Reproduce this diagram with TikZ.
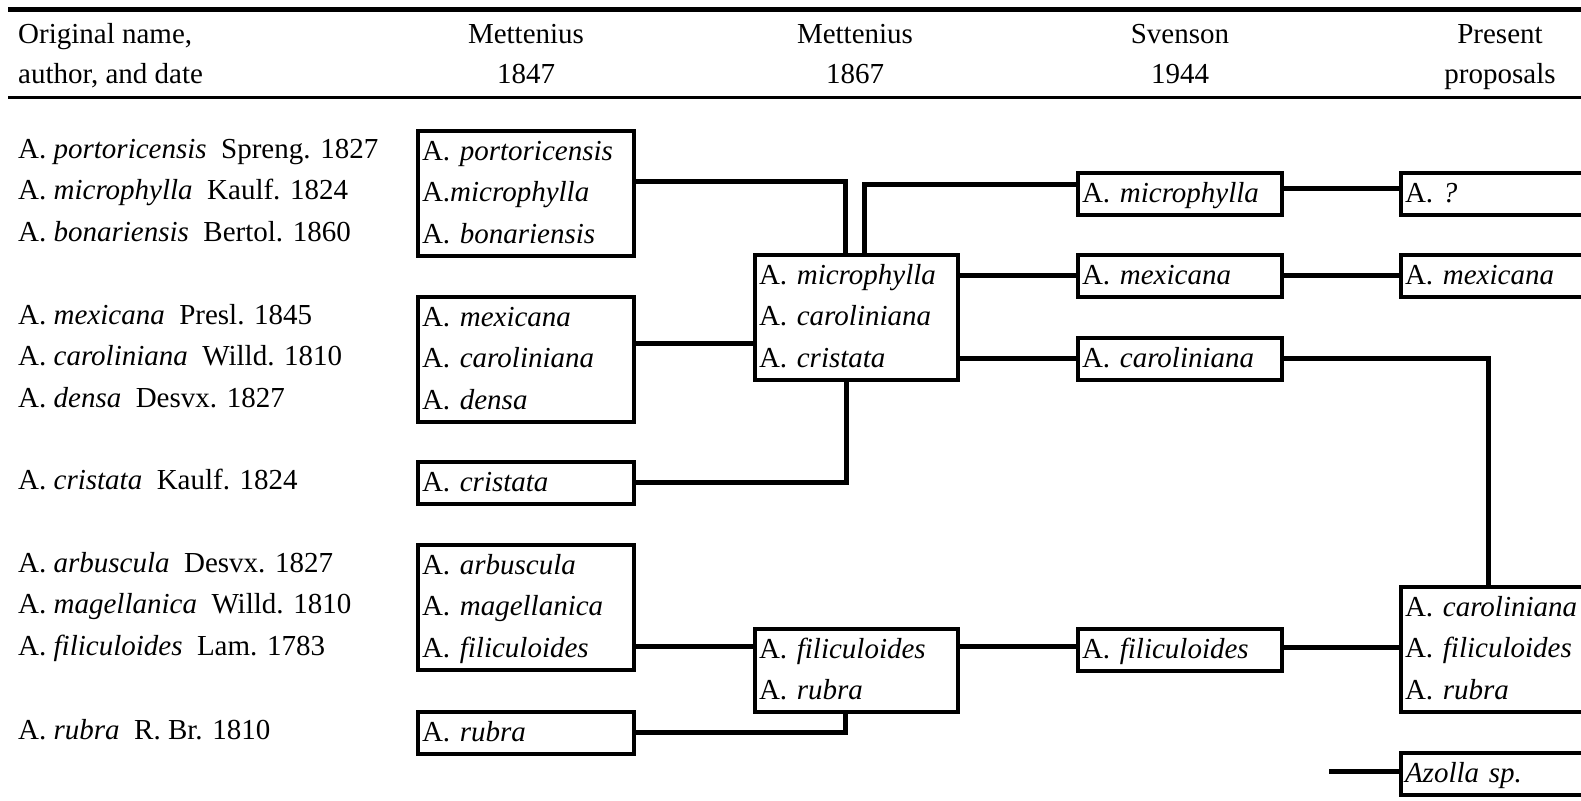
\documentclass[tikz,border=0pt]{standalone}
\usepackage{fontspec}
\setmainfont{Liberation Serif}
\usepackage{tikz}
\newcommand{\rowstrut}{\rule[-12.5pt]{0pt}{41.5pt}}
\newcommand{\az}[1]{\rowstrut A.\ \textit{#1}}
\newcommand{\orig}[2]{A.\ \textit{#1}\hspace{0.5em}#2}

\begin{document}
\begin{tikzpicture}[
    x=1pt, y=-1pt,
    font=\fontsize{29}{41.5}\selectfont,
    box/.style={draw, line width=4pt, anchor=north west, inner xsep=4pt, inner ysep=0pt, align=left},
    colA/.style={box, text width=208pt},
    colB/.style={box, text width=195pt},
    colC/.style={box, text width=196pt},
    colD/.style={box, text width=208pt},
    link/.style={line width=5pt},
    head/.style={anchor=base, inner sep=0pt},
    orig/.style={anchor=base west, inner sep=0pt},
]
    \path[clip, use as bounding box] (0,0) rectangle (1581,800);
    \draw[line width=5pt] (8,10) -- (1581,10);
    \draw[line width=3pt] (8,97) -- (1581,97);

    \node[orig] (h1a) at (18,44) {Original name,};
    \node[orig] (h1b) at (18,83) {author, and date};
    \node[head] (h2a) at (526,44) {Mettenius};
    \node[head] (h2b) at (526,83) {1847};
    \node[head] (h3a) at (855,44) {Mettenius};
    \node[head] (h3b) at (855,83) {1867};
    \node[head] (h4a) at (1180,44) {Svenson};
    \node[head] (h4b) at (1180,83) {1944};
    \node[head] (h5a) at (1500,44) {Present};
    \node[head] (h5b) at (1500,83) {proposals};

    \node[orig] (o1) at (18,158) {\orig{portoricensis}{Spreng. 1827}};
    \node[orig] (o2) at (18,199.5) {\orig{microphylla}{Kaulf. 1824}};
    \node[orig] (o3) at (18,241) {\orig{bonariensis}{Bertol. 1860}};
    \node[orig] (o4) at (18,324) {\orig{mexicana}{Presl. 1845}};
    \node[orig] (o5) at (18,365.5) {\orig{caroliniana}{Willd. 1810}};
    \node[orig] (o6) at (18,407) {\orig{densa}{Desvx. 1827}};
    \node[orig] (o7) at (18,489) {\orig{cristata}{Kaulf. 1824}};
    \node[orig] (o8) at (18,572) {\orig{arbuscula}{Desvx. 1827}};
    \node[orig] (o9) at (18,613.5) {\orig{magellanica}{Willd. 1810}};
    \node[orig] (o10) at (18,655) {\orig{filiculoides}{Lam. 1783}};
    \node[orig] (o11) at (18,739) {\orig{rubra}{R. Br. 1810}};

    \node[colA] (b1) at (416,129) {\az{portoricensis}\\ \rowstrut A.\textit{microphylla}\\ \az{bonariensis}};
    \node[colA] (b2) at (416,295) {\az{mexicana}\\ \az{caroliniana}\\ \az{densa}};
    \node[colA] (b3) at (416,460) {\az{cristata}};
    \node[colA] (b4) at (416,543) {\az{arbuscula}\\ \az{magellanica}\\ \az{filiculoides}};
    \node[colA] (b5) at (416,710) {\az{rubra}};
    \node[colB] (c1) at (753,253) {\az{microphylla}\\ \az{caroliniana}\\ \az{cristata}};
    \node[colB] (c2) at (753,627) {\az{filiculoides}\\ \az{rubra}};
    \node[colC] (d1) at (1076,171) {\az{microphylla}};
    \node[colC] (d2) at (1076,253) {\az{mexicana}};
    \node[colC] (d3) at (1076,336) {\az{caroliniana}};
    \node[colC] (d4) at (1076,627) {\az{filiculoides}};
    \node[colD] (e1) at (1399,171) {\az{?}};
    \node[colD] (e2) at (1399,253) {\az{mexicana}};
    \node[colD] (e3) at (1399,585) {\az{caroliniana}\\ \az{filiculoides}\\ \az{rubra}};
    \node[colD] (e4) at (1399,751) {\rowstrut\textit{Azolla sp.}};

    \draw[link] ([yshift=12.25pt]b1.east) -| ([xshift=-11.5pt]c1.north);
    \draw[link] ([xshift=7.5pt]c1.north) |- ([yshift=9.75pt]d1.west);
    \draw[link] ([yshift=16pt]b2.east) -- ([yshift=16pt]b2.east -| c1.west);
    \draw[link] (b3.east) -| ([xshift=-10.5pt]c1.south);
    \draw[link] (c1.east |- d2.west) -- (d2.west);
    \draw[link] (c1.east |- d3.west) -- (d3.west);
    \draw[link] ([yshift=5pt]d1.east) -- ([yshift=5pt]e1.west);
    \draw[link] (d2.east) -- (e2.west);
    \draw[link] (d3.east) -| ([xshift=89pt]e3.north west);
    \draw[link] ([yshift=-38.75pt]b4.east) -- ([yshift=-38.75pt]b4.east -| c2.west);
    \draw[link] (b5.east) -| ([xshift=92pt]c2.south west);
    \draw[link] ([yshift=3.75pt]d4.west -| c2.east) -- ([yshift=3.75pt]d4.west);
    \draw[link] ([yshift=2.75pt]d4.east) -- ([yshift=2.75pt]d4.east -| e3.west);
    \coordinate (azl) at (1329,771);
    \draw[link] (azl) -- (azl -| e4.west);
\end{tikzpicture}
\end{document}
